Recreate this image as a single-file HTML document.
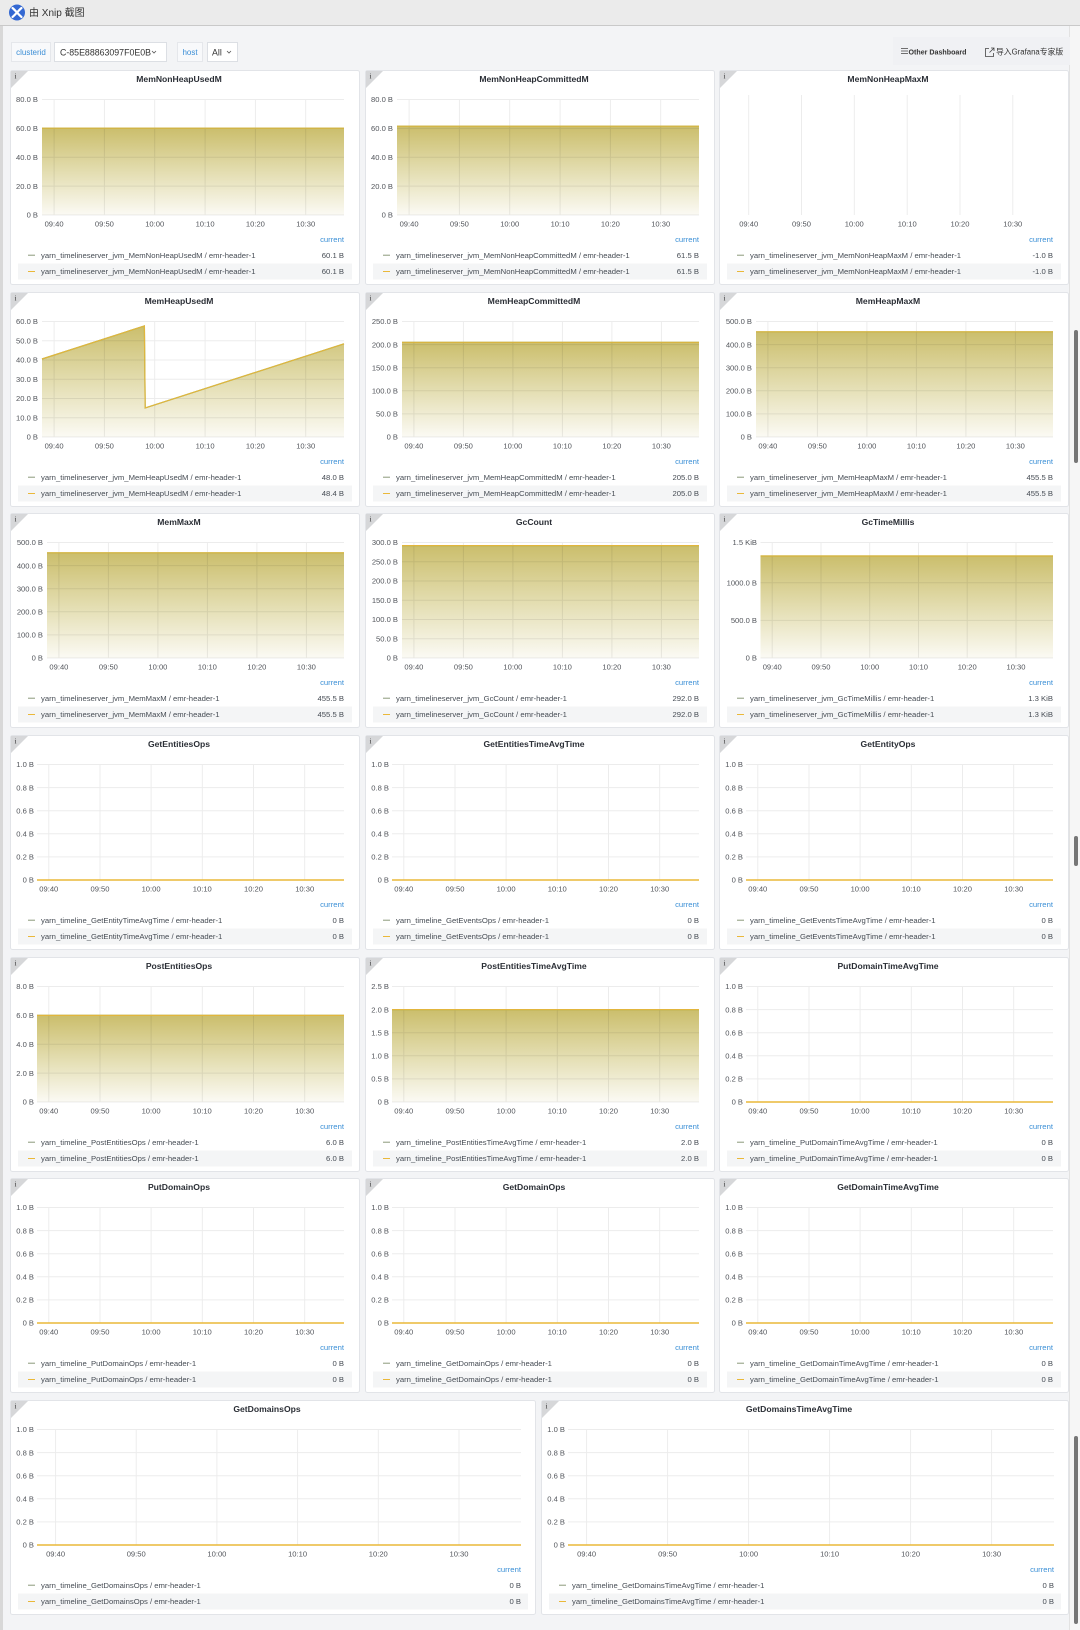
<!DOCTYPE html>
<html><head><meta charset="utf-8"><style>
html,body{margin:0;padding:0;width:1080px;height:1630px;overflow:hidden;background:#f3f4f6}
svg{display:block}
text{font-family:"Liberation Sans","Noto Sans CJK SC",sans-serif}
.pn{fill:#fff;stroke:#e2e4e8}
.ic{fill:#d6d7d9}
.ii{font-family:"Liberation Serif",serif;font-size:7.5px;fill:#333}
.t{font-weight:bold;font-size:8.6px;fill:#2b2f36;text-anchor:middle}
.yl text{font-size:7.6px;fill:#52555b;text-anchor:end}
.xl text{font-size:7.6px;fill:#52555b;text-anchor:middle}
.gr{stroke:rgba(0,0,0,.075);stroke-width:1;fill:none}
.fl{fill:url(#g)}
.l1{stroke:#7EB26D;stroke-width:1.2;fill:none}
.l2{stroke:#E2B53C;stroke-width:1.2;fill:none}
.z{stroke:#EAB839;stroke-width:1.6;fill:none}
.cur{font-size:7.7px;fill:#3a8fd6;text-anchor:end}
.lg{font-size:7.7px;fill:#464c54}
.lv{font-size:7.7px;fill:#464c54;text-anchor:end}
.hl{fill:#f4f5f6}
.d1{stroke:#8c9a7a;stroke-width:1}
.d2{stroke:#EAB839;stroke-width:1}
</style></head><body>
<svg width="1080" height="1630" viewBox="0 0 1080 1630" xmlns="http://www.w3.org/2000/svg">
<defs>
<linearGradient id="g" x1="0" y1="0" x2="0" y2="1">
<stop offset="0" stop-color="#cbbe6c"/>
<stop offset="0.5" stop-color="#e3ddb0"/>
<stop offset="1" stop-color="#fbfaf4"/>
</linearGradient>
</defs>
<!-- background -->
<rect x="0" y="0" width="1080" height="1630" fill="#f3f4f6"/>
<rect x="0" y="26" width="3" height="1604" fill="#d8d8d8"/>
<rect x="1070" y="26" width="10" height="1604" fill="#f6f6f6"/>
<path d="M1069.5 26V1630" stroke="#e2e2e2"/>
<rect x="1074" y="330" width="4" height="133" rx="2" fill="#767676"/>
<rect x="1074" y="836" width="4" height="30" rx="2" fill="#767676"/>
<rect x="1074" y="1436" width="4" height="188" rx="2" fill="#767676"/>
<!-- top bar -->
<rect x="0" y="0" width="1080" height="25" fill="#ebebeb"/>
<path d="M0 25.5H1080" stroke="#c9c9c9"/>
<circle cx="17" cy="12.5" r="8" fill="#3468d2"/>
<path d="M12.5 8C15 10 19 15 21.5 17M21.5 8C19 10 15 15 12.5 17" stroke="#fff" stroke-width="2.2" stroke-linecap="round" fill="none"/>
<text x="29" y="16" font-size="10" fill="#333">由 Xnip 截图</text>
<!-- variables -->
<rect x="11.5" y="42.5" width="39" height="19" fill="#f8f9fb" stroke="#e5e7eb"/>
<text x="31" y="55" font-size="8" fill="#3b8ed6" text-anchor="middle">clusterid</text>
<rect x="54.5" y="42.5" width="112" height="19" fill="#fff" stroke="#dcdfe4"/>
<text x="60" y="55.5" font-size="8.8" fill="#333">C-85E88863097F0E0B</text>
<path d="M152 51L154 53L156 51" stroke="#555" stroke-width="0.8" fill="none"/>
<rect x="177.5" y="42.5" width="25" height="19" fill="#f8f9fb" stroke="#e5e7eb"/>
<text x="190" y="55" font-size="8" fill="#3b8ed6" text-anchor="middle">host</text>
<rect x="207.5" y="42.5" width="30" height="19" fill="#fff" stroke="#dcdfe4"/>
<text x="212" y="55.5" font-size="8.8" fill="#333">All</text>
<path d="M227 51L229 53L231 51" stroke="#555" stroke-width="0.8" fill="none"/>
<rect x="893" y="37" width="177" height="28" fill="#f0f1f4"/>
<path d="M901 48.5H908M901 51H908M901 53.5H908" stroke="#444" stroke-width="0.8"/>
<text x="908.5" y="54.3" font-size="7.1" font-weight="bold" fill="#333">Other Dashboard</text>
<path d="M989 48.5H985.5V56.5H993.5V53M989.5 52.5L994 48M991 48H994V51" stroke="#444" stroke-width="0.8" fill="none"/>
<text x="996" y="54.5" font-size="7.8" fill="#333">导入Grafana专家版</text>

<!-- ROW 1 -->
<g transform="translate(10,70)">
<rect class="pn" x=".5" y=".5" width="349" height="214" rx="2"/>
<path class="ic" d="M1 1H18L1 18Z"/><text class="ii" x="4.5" y="8.5">i</text>
<text class="t" x="169" y="12">MemNonHeapUsedM</text>
<path class="fl" d="M32 58.2H334V145H32Z"/>
<path class="gr" d="M32 29.5H334M32 58.4H334M32 87.3H334M32 116.1H334M32 145H334M44.1 29.5V145M94.4 29.5V145M144.7 29.5V145M195.1 29.5V145M245.4 29.5V145M295.7 29.5V145"/>
<path class="l1" d="M32 58.2H334"/><path class="l2" d="M32 58.2H334"/>
<g class="yl"><text x="28" y="32.2">80.0 B</text><text x="28" y="61.1">60.0 B</text><text x="28" y="90">40.0 B</text><text x="28" y="118.8">20.0 B</text><text x="28" y="147.7">0 B</text></g>
<g class="xl"><text x="44.1" y="156.7">09:40</text><text x="94.4" y="156.7">09:50</text><text x="144.7" y="156.7">10:00</text><text x="195.1" y="156.7">10:10</text><text x="245.4" y="156.7">10:20</text><text x="295.7" y="156.7">10:30</text></g>
<text class="cur" x="334" y="172">current</text>
<rect class="hl" x="8" y="193.5" width="334" height="16"/>
<path class="d1" d="M18 185.2H25"/><path class="d2" d="M18 201.5H25"/>
<text class="lg" x="31" y="187.9">yarn_timelineserver_jvm_MemNonHeapUsedM / emr-header-1</text><text class="lv" x="334" y="187.9">60.1 B</text>
<text class="lg" x="31" y="204.2">yarn_timelineserver_jvm_MemNonHeapUsedM / emr-header-1</text><text class="lv" x="334" y="204.2">60.1 B</text>
</g>

<g transform="translate(365,70)">
<rect class="pn" x=".5" y=".5" width="349" height="214" rx="2"/>
<path class="ic" d="M1 1H18L1 18Z"/><text class="ii" x="4.5" y="8.5">i</text>
<text class="t" x="169" y="12">MemNonHeapCommittedM</text>
<path class="fl" d="M32 56.2H334V145H32Z"/>
<path class="gr" d="M32 29.5H334M32 58.4H334M32 87.3H334M32 116.1H334M32 145H334M44.1 29.5V145M94.4 29.5V145M144.7 29.5V145M195.1 29.5V145M245.4 29.5V145M295.7 29.5V145"/>
<path class="l1" d="M32 56.2H334"/><path class="l2" d="M32 56.2H334"/>
<g class="yl"><text x="28" y="32.2">80.0 B</text><text x="28" y="61.1">60.0 B</text><text x="28" y="90">40.0 B</text><text x="28" y="118.8">20.0 B</text><text x="28" y="147.7">0 B</text></g>
<g class="xl"><text x="44.1" y="156.7">09:40</text><text x="94.4" y="156.7">09:50</text><text x="144.7" y="156.7">10:00</text><text x="195.1" y="156.7">10:10</text><text x="245.4" y="156.7">10:20</text><text x="295.7" y="156.7">10:30</text></g>
<text class="cur" x="334" y="172">current</text>
<rect class="hl" x="8" y="193.5" width="334" height="16"/>
<path class="d1" d="M18 185.2H25"/><path class="d2" d="M18 201.5H25"/>
<text class="lg" x="31" y="187.9">yarn_timelineserver_jvm_MemNonHeapCommittedM / emr-header-1</text><text class="lv" x="334" y="187.9">61.5 B</text>
<text class="lg" x="31" y="204.2">yarn_timelineserver_jvm_MemNonHeapCommittedM / emr-header-1</text><text class="lv" x="334" y="204.2">61.5 B</text>
</g>

<g transform="translate(719,70)">
<rect class="pn" x=".5" y=".5" width="349" height="214" rx="2"/>
<path class="ic" d="M1 1H18L1 18Z"/><text class="ii" x="4.5" y="8.5">i</text>
<text class="t" x="169" y="12">MemNonHeapMaxM</text>
<path class="gr" d="M29.7 25V145M82.5 25V145M135.3 25V145M188.2 25V145M241 25V145M293.8 25V145"/>
<g class="xl"><text x="29.7" y="156.7">09:40</text><text x="82.5" y="156.7">09:50</text><text x="135.3" y="156.7">10:00</text><text x="188.2" y="156.7">10:10</text><text x="241" y="156.7">10:20</text><text x="293.8" y="156.7">10:30</text></g>
<text class="cur" x="334" y="172">current</text>
<rect class="hl" x="8" y="193.5" width="334" height="16"/>
<path class="d1" d="M18 185.2H25"/><path class="d2" d="M18 201.5H25"/>
<text class="lg" x="31" y="187.9">yarn_timelineserver_jvm_MemNonHeapMaxM / emr-header-1</text><text class="lv" x="334" y="187.9">-1.0 B</text>
<text class="lg" x="31" y="204.2">yarn_timelineserver_jvm_MemNonHeapMaxM / emr-header-1</text><text class="lv" x="334" y="204.2">-1.0 B</text>
</g>

<!-- ROW 2 -->
<g transform="translate(10,292)">
<rect class="pn" x=".5" y=".5" width="349" height="214" rx="2"/>
<path class="ic" d="M1 1H18L1 18Z"/><text class="ii" x="4.5" y="8.5">i</text>
<text class="t" x="169" y="12">MemHeapUsedM</text>
<path class="fl" d="M32 67L134.4 33.9L135.2 115.9L334 51.8V145H32Z"/>
<path class="gr" d="M32 29.5H334M32 48.75H334M32 68H334M32 87.25H334M32 106.5H334M32 125.75H334M32 145H334M44.1 29.5V145M94.4 29.5V145M144.7 29.5V145M195.1 29.5V145M245.4 29.5V145M295.7 29.5V145"/>
<path class="l1" d="M32 67L134.4 33.9L135.2 115.9L334 51.8"/><path class="l2" d="M32 67L134.4 33.9L135.2 115.9L334 51.8"/>
<g class="yl"><text x="28" y="32.2">60.0 B</text><text x="28" y="51.45">50.0 B</text><text x="28" y="70.7">40.0 B</text><text x="28" y="89.95">30.0 B</text><text x="28" y="109.2">20.0 B</text><text x="28" y="128.45">10.0 B</text><text x="28" y="147.7">0 B</text></g>
<g class="xl"><text x="44.1" y="156.7">09:40</text><text x="94.4" y="156.7">09:50</text><text x="144.7" y="156.7">10:00</text><text x="195.1" y="156.7">10:10</text><text x="245.4" y="156.7">10:20</text><text x="295.7" y="156.7">10:30</text></g>
<text class="cur" x="334" y="172">current</text>
<rect class="hl" x="8" y="193.5" width="334" height="16"/>
<path class="d1" d="M18 185.2H25"/><path class="d2" d="M18 201.5H25"/>
<text class="lg" x="31" y="187.9">yarn_timelineserver_jvm_MemHeapUsedM / emr-header-1</text><text class="lv" x="334" y="187.9">48.0 B</text>
<text class="lg" x="31" y="204.2">yarn_timelineserver_jvm_MemHeapUsedM / emr-header-1</text><text class="lv" x="334" y="204.2">48.4 B</text>
</g>

<g transform="translate(365,292)">
<rect class="pn" x=".5" y=".5" width="349" height="214" rx="2"/>
<path class="ic" d="M1 1H18L1 18Z"/><text class="ii" x="4.5" y="8.5">i</text>
<text class="t" x="169" y="12">MemHeapCommittedM</text>
<path class="fl" d="M37 50.3H334V145H37Z"/>
<path class="gr" d="M37 29.5H334M37 52.6H334M37 75.7H334M37 98.8H334M37 121.9H334M37 145H334M48.9 29.5V145M98.4 29.5V145M147.9 29.5V145M197.4 29.5V145M246.9 29.5V145M296.4 29.5V145"/>
<path class="l1" d="M37 50.3H334"/><path class="l2" d="M37 50.3H334"/>
<g class="yl"><text x="33" y="32.2">250.0 B</text><text x="33" y="55.3">200.0 B</text><text x="33" y="78.4">150.0 B</text><text x="33" y="101.5">100.0 B</text><text x="33" y="124.6">50.0 B</text><text x="33" y="147.7">0 B</text></g>
<g class="xl"><text x="48.9" y="156.7">09:40</text><text x="98.4" y="156.7">09:50</text><text x="147.9" y="156.7">10:00</text><text x="197.4" y="156.7">10:10</text><text x="246.9" y="156.7">10:20</text><text x="296.4" y="156.7">10:30</text></g>
<text class="cur" x="334" y="172">current</text>
<rect class="hl" x="8" y="193.5" width="334" height="16"/>
<path class="d1" d="M18 185.2H25"/><path class="d2" d="M18 201.5H25"/>
<text class="lg" x="31" y="187.9">yarn_timelineserver_jvm_MemHeapCommittedM / emr-header-1</text><text class="lv" x="334" y="187.9">205.0 B</text>
<text class="lg" x="31" y="204.2">yarn_timelineserver_jvm_MemHeapCommittedM / emr-header-1</text><text class="lv" x="334" y="204.2">205.0 B</text>
</g>

<g transform="translate(719,292)">
<rect class="pn" x=".5" y=".5" width="349" height="214" rx="2"/>
<path class="ic" d="M1 1H18L1 18Z"/><text class="ii" x="4.5" y="8.5">i</text>
<text class="t" x="169" y="12">MemHeapMaxM</text>
<path class="fl" d="M37 39.8H334V145H37Z"/>
<path class="gr" d="M37 29.5H334M37 52.6H334M37 75.7H334M37 98.8H334M37 121.9H334M37 145H334M48.9 29.5V145M98.4 29.5V145M147.9 29.5V145M197.4 29.5V145M246.9 29.5V145M296.4 29.5V145"/>
<path class="l1" d="M37 39.8H334"/><path class="l2" d="M37 39.8H334"/>
<g class="yl"><text x="33" y="32.2">500.0 B</text><text x="33" y="55.3">400.0 B</text><text x="33" y="78.4">300.0 B</text><text x="33" y="101.5">200.0 B</text><text x="33" y="124.6">100.0 B</text><text x="33" y="147.7">0 B</text></g>
<g class="xl"><text x="48.9" y="156.7">09:40</text><text x="98.4" y="156.7">09:50</text><text x="147.9" y="156.7">10:00</text><text x="197.4" y="156.7">10:10</text><text x="246.9" y="156.7">10:20</text><text x="296.4" y="156.7">10:30</text></g>
<text class="cur" x="334" y="172">current</text>
<rect class="hl" x="8" y="193.5" width="334" height="16"/>
<path class="d1" d="M18 185.2H25"/><path class="d2" d="M18 201.5H25"/>
<text class="lg" x="31" y="187.9">yarn_timelineserver_jvm_MemHeapMaxM / emr-header-1</text><text class="lv" x="334" y="187.9">455.5 B</text>
<text class="lg" x="31" y="204.2">yarn_timelineserver_jvm_MemHeapMaxM / emr-header-1</text><text class="lv" x="334" y="204.2">455.5 B</text>
</g>

<!-- ROW 3 -->
<g transform="translate(10,513)">
<rect class="pn" x=".5" y=".5" width="349" height="214" rx="2"/>
<path class="ic" d="M1 1H18L1 18Z"/><text class="ii" x="4.5" y="8.5">i</text>
<text class="t" x="169" y="12">MemMaxM</text>
<path class="fl" d="M37 39.8H334V145H37Z"/>
<path class="gr" d="M37 29.5H334M37 52.6H334M37 75.7H334M37 98.8H334M37 121.9H334M37 145H334M48.9 29.5V145M98.4 29.5V145M147.9 29.5V145M197.4 29.5V145M246.9 29.5V145M296.4 29.5V145"/>
<path class="l1" d="M37 39.8H334"/><path class="l2" d="M37 39.8H334"/>
<g class="yl"><text x="33" y="32.2">500.0 B</text><text x="33" y="55.3">400.0 B</text><text x="33" y="78.4">300.0 B</text><text x="33" y="101.5">200.0 B</text><text x="33" y="124.6">100.0 B</text><text x="33" y="147.7">0 B</text></g>
<g class="xl"><text x="48.9" y="156.7">09:40</text><text x="98.4" y="156.7">09:50</text><text x="147.9" y="156.7">10:00</text><text x="197.4" y="156.7">10:10</text><text x="246.9" y="156.7">10:20</text><text x="296.4" y="156.7">10:30</text></g>
<text class="cur" x="334" y="172">current</text>
<rect class="hl" x="8" y="193.5" width="334" height="16"/>
<path class="d1" d="M18 185.2H25"/><path class="d2" d="M18 201.5H25"/>
<text class="lg" x="31" y="187.9">yarn_timelineserver_jvm_MemMaxM / emr-header-1</text><text class="lv" x="334" y="187.9">455.5 B</text>
<text class="lg" x="31" y="204.2">yarn_timelineserver_jvm_MemMaxM / emr-header-1</text><text class="lv" x="334" y="204.2">455.5 B</text>
</g>

<g transform="translate(365,513)">
<rect class="pn" x=".5" y=".5" width="349" height="214" rx="2"/>
<path class="ic" d="M1 1H18L1 18Z"/><text class="ii" x="4.5" y="8.5">i</text>
<text class="t" x="169" y="12">GcCount</text>
<path class="fl" d="M37 32.6H334V145H37Z"/>
<path class="gr" d="M37 29.5H334M37 48.75H334M37 68H334M37 87.25H334M37 106.5H334M37 125.75H334M37 145H334M48.9 29.5V145M98.4 29.5V145M147.9 29.5V145M197.4 29.5V145M246.9 29.5V145M296.4 29.5V145"/>
<path class="l1" d="M37 32.6H334"/><path class="l2" d="M37 32.6H334"/>
<g class="yl"><text x="33" y="32.2">300.0 B</text><text x="33" y="51.45">250.0 B</text><text x="33" y="70.7">200.0 B</text><text x="33" y="89.95">150.0 B</text><text x="33" y="109.2">100.0 B</text><text x="33" y="128.45">50.0 B</text><text x="33" y="147.7">0 B</text></g>
<g class="xl"><text x="48.9" y="156.7">09:40</text><text x="98.4" y="156.7">09:50</text><text x="147.9" y="156.7">10:00</text><text x="197.4" y="156.7">10:10</text><text x="246.9" y="156.7">10:20</text><text x="296.4" y="156.7">10:30</text></g>
<text class="cur" x="334" y="172">current</text>
<rect class="hl" x="8" y="193.5" width="334" height="16"/>
<path class="d1" d="M18 185.2H25"/><path class="d2" d="M18 201.5H25"/>
<text class="lg" x="31" y="187.9">yarn_timelineserver_jvm_GcCount / emr-header-1</text><text class="lv" x="334" y="187.9">292.0 B</text>
<text class="lg" x="31" y="204.2">yarn_timelineserver_jvm_GcCount / emr-header-1</text><text class="lv" x="334" y="204.2">292.0 B</text>
</g>

<g transform="translate(719,513)">
<rect class="pn" x=".5" y=".5" width="349" height="214" rx="2"/>
<path class="ic" d="M1 1H18L1 18Z"/><text class="ii" x="4.5" y="8.5">i</text>
<text class="t" x="169" y="12">GcTimeMillis</text>
<path class="fl" d="M41.5 43H334V145H41.5Z"/>
<path class="gr" d="M41.5 29.5H334M41.5 69.8H334M41.5 107.4H334M41.5 145H334M53.2 29.5V145M102 29.5V145M150.7 29.5V145M199.5 29.5V145M248.2 29.5V145M297 29.5V145"/>
<path class="l1" d="M41.5 43H334"/><path class="l2" d="M41.5 43H334"/>
<g class="yl"><text x="38" y="32.2">1.5 KiB</text><text x="38" y="72.5">1000.0 B</text><text x="38" y="110.1">500.0 B</text><text x="38" y="147.7">0 B</text></g>
<g class="xl"><text x="53.2" y="156.7">09:40</text><text x="102" y="156.7">09:50</text><text x="150.7" y="156.7">10:00</text><text x="199.5" y="156.7">10:10</text><text x="248.2" y="156.7">10:20</text><text x="297" y="156.7">10:30</text></g>
<text class="cur" x="334" y="172">current</text>
<rect class="hl" x="8" y="193.5" width="334" height="16"/>
<path class="d1" d="M18 185.2H25"/><path class="d2" d="M18 201.5H25"/>
<text class="lg" x="31" y="187.9">yarn_timelineserver_jvm_GcTimeMillis / emr-header-1</text><text class="lv" x="334" y="187.9">1.3 KiB</text>
<text class="lg" x="31" y="204.2">yarn_timelineserver_jvm_GcTimeMillis / emr-header-1</text><text class="lv" x="334" y="204.2">1.3 KiB</text>
</g>

<!-- ROW 4 -->
<g transform="translate(10,735)">
<rect class="pn" x=".5" y=".5" width="349" height="214" rx="2"/>
<path class="ic" d="M1 1H18L1 18Z"/><text class="ii" x="4.5" y="8.5">i</text>
<text class="t" x="169" y="12">GetEntitiesOps</text>
<path class="gr" d="M27 29.5H334M27 52.6H334M27 75.7H334M27 98.8H334M27 121.9H334M27 145H334M38.8 29.5V145M90 29.5V145M141.1 29.5V145M192.3 29.5V145M243.5 29.5V145M294.7 29.5V145"/>
<path class="z" d="M27 145H334"/>
<g class="yl"><text x="24" y="32.2">1.0 B</text><text x="24" y="55.3">0.8 B</text><text x="24" y="78.4">0.6 B</text><text x="24" y="101.5">0.4 B</text><text x="24" y="124.6">0.2 B</text><text x="24" y="147.7">0 B</text></g>
<g class="xl"><text x="38.8" y="156.7">09:40</text><text x="90" y="156.7">09:50</text><text x="141.1" y="156.7">10:00</text><text x="192.3" y="156.7">10:10</text><text x="243.5" y="156.7">10:20</text><text x="294.7" y="156.7">10:30</text></g>
<text class="cur" x="334" y="172">current</text>
<rect class="hl" x="8" y="193.5" width="334" height="16"/>
<path class="d1" d="M18 185.2H25"/><path class="d2" d="M18 201.5H25"/>
<text class="lg" x="31" y="187.9">yarn_timeline_GetEntityTimeAvgTime / emr-header-1</text><text class="lv" x="334" y="187.9">0 B</text>
<text class="lg" x="31" y="204.2">yarn_timeline_GetEntityTimeAvgTime / emr-header-1</text><text class="lv" x="334" y="204.2">0 B</text>
</g>

<g transform="translate(365,735)">
<rect class="pn" x=".5" y=".5" width="349" height="214" rx="2"/>
<path class="ic" d="M1 1H18L1 18Z"/><text class="ii" x="4.5" y="8.5">i</text>
<text class="t" x="169" y="12">GetEntitiesTimeAvgTime</text>
<path class="gr" d="M27 29.5H334M27 52.6H334M27 75.7H334M27 98.8H334M27 121.9H334M27 145H334M38.8 29.5V145M90 29.5V145M141.1 29.5V145M192.3 29.5V145M243.5 29.5V145M294.7 29.5V145"/>
<path class="z" d="M27 145H334"/>
<g class="yl"><text x="24" y="32.2">1.0 B</text><text x="24" y="55.3">0.8 B</text><text x="24" y="78.4">0.6 B</text><text x="24" y="101.5">0.4 B</text><text x="24" y="124.6">0.2 B</text><text x="24" y="147.7">0 B</text></g>
<g class="xl"><text x="38.8" y="156.7">09:40</text><text x="90" y="156.7">09:50</text><text x="141.1" y="156.7">10:00</text><text x="192.3" y="156.7">10:10</text><text x="243.5" y="156.7">10:20</text><text x="294.7" y="156.7">10:30</text></g>
<text class="cur" x="334" y="172">current</text>
<rect class="hl" x="8" y="193.5" width="334" height="16"/>
<path class="d1" d="M18 185.2H25"/><path class="d2" d="M18 201.5H25"/>
<text class="lg" x="31" y="187.9">yarn_timeline_GetEventsOps / emr-header-1</text><text class="lv" x="334" y="187.9">0 B</text>
<text class="lg" x="31" y="204.2">yarn_timeline_GetEventsOps / emr-header-1</text><text class="lv" x="334" y="204.2">0 B</text>
</g>

<g transform="translate(719,735)">
<rect class="pn" x=".5" y=".5" width="349" height="214" rx="2"/>
<path class="ic" d="M1 1H18L1 18Z"/><text class="ii" x="4.5" y="8.5">i</text>
<text class="t" x="169" y="12">GetEntityOps</text>
<path class="gr" d="M27 29.5H334M27 52.6H334M27 75.7H334M27 98.8H334M27 121.9H334M27 145H334M38.8 29.5V145M90 29.5V145M141.1 29.5V145M192.3 29.5V145M243.5 29.5V145M294.7 29.5V145"/>
<path class="z" d="M27 145H334"/>
<g class="yl"><text x="24" y="32.2">1.0 B</text><text x="24" y="55.3">0.8 B</text><text x="24" y="78.4">0.6 B</text><text x="24" y="101.5">0.4 B</text><text x="24" y="124.6">0.2 B</text><text x="24" y="147.7">0 B</text></g>
<g class="xl"><text x="38.8" y="156.7">09:40</text><text x="90" y="156.7">09:50</text><text x="141.1" y="156.7">10:00</text><text x="192.3" y="156.7">10:10</text><text x="243.5" y="156.7">10:20</text><text x="294.7" y="156.7">10:30</text></g>
<text class="cur" x="334" y="172">current</text>
<rect class="hl" x="8" y="193.5" width="334" height="16"/>
<path class="d1" d="M18 185.2H25"/><path class="d2" d="M18 201.5H25"/>
<text class="lg" x="31" y="187.9">yarn_timeline_GetEventsTimeAvgTime / emr-header-1</text><text class="lv" x="334" y="187.9">0 B</text>
<text class="lg" x="31" y="204.2">yarn_timeline_GetEventsTimeAvgTime / emr-header-1</text><text class="lv" x="334" y="204.2">0 B</text>
</g>

<!-- ROW 5 -->
<g transform="translate(10,957)">
<rect class="pn" x=".5" y=".5" width="349" height="214" rx="2"/>
<path class="ic" d="M1 1H18L1 18Z"/><text class="ii" x="4.5" y="8.5">i</text>
<text class="t" x="169" y="12">PostEntitiesOps</text>
<path class="fl" d="M27 58.4H334V145H27Z"/>
<path class="gr" d="M27 29.5H334M27 58.4H334M27 87.3H334M27 116.1H334M27 145H334M38.8 29.5V145M90 29.5V145M141.1 29.5V145M192.3 29.5V145M243.5 29.5V145M294.7 29.5V145"/>
<path class="l1" d="M27 58.4H334"/><path class="l2" d="M27 58.4H334"/>
<g class="yl"><text x="24" y="32.2">8.0 B</text><text x="24" y="61.1">6.0 B</text><text x="24" y="90">4.0 B</text><text x="24" y="118.8">2.0 B</text><text x="24" y="147.7">0 B</text></g>
<g class="xl"><text x="38.8" y="156.7">09:40</text><text x="90" y="156.7">09:50</text><text x="141.1" y="156.7">10:00</text><text x="192.3" y="156.7">10:10</text><text x="243.5" y="156.7">10:20</text><text x="294.7" y="156.7">10:30</text></g>
<text class="cur" x="334" y="172">current</text>
<rect class="hl" x="8" y="193.5" width="334" height="16"/>
<path class="d1" d="M18 185.2H25"/><path class="d2" d="M18 201.5H25"/>
<text class="lg" x="31" y="187.9">yarn_timeline_PostEntitiesOps / emr-header-1</text><text class="lv" x="334" y="187.9">6.0 B</text>
<text class="lg" x="31" y="204.2">yarn_timeline_PostEntitiesOps / emr-header-1</text><text class="lv" x="334" y="204.2">6.0 B</text>
</g>

<g transform="translate(365,957)">
<rect class="pn" x=".5" y=".5" width="349" height="214" rx="2"/>
<path class="ic" d="M1 1H18L1 18Z"/><text class="ii" x="4.5" y="8.5">i</text>
<text class="t" x="169" y="12">PostEntitiesTimeAvgTime</text>
<path class="fl" d="M27 52.6H334V145H27Z"/>
<path class="gr" d="M27 29.5H334M27 52.6H334M27 75.7H334M27 98.8H334M27 121.9H334M27 145H334M38.8 29.5V145M90 29.5V145M141.1 29.5V145M192.3 29.5V145M243.5 29.5V145M294.7 29.5V145"/>
<path class="l1" d="M27 52.6H334"/><path class="l2" d="M27 52.6H334"/>
<g class="yl"><text x="24" y="32.2">2.5 B</text><text x="24" y="55.3">2.0 B</text><text x="24" y="78.4">1.5 B</text><text x="24" y="101.5">1.0 B</text><text x="24" y="124.6">0.5 B</text><text x="24" y="147.7">0 B</text></g>
<g class="xl"><text x="38.8" y="156.7">09:40</text><text x="90" y="156.7">09:50</text><text x="141.1" y="156.7">10:00</text><text x="192.3" y="156.7">10:10</text><text x="243.5" y="156.7">10:20</text><text x="294.7" y="156.7">10:30</text></g>
<text class="cur" x="334" y="172">current</text>
<rect class="hl" x="8" y="193.5" width="334" height="16"/>
<path class="d1" d="M18 185.2H25"/><path class="d2" d="M18 201.5H25"/>
<text class="lg" x="31" y="187.9">yarn_timeline_PostEntitiesTimeAvgTime / emr-header-1</text><text class="lv" x="334" y="187.9">2.0 B</text>
<text class="lg" x="31" y="204.2">yarn_timeline_PostEntitiesTimeAvgTime / emr-header-1</text><text class="lv" x="334" y="204.2">2.0 B</text>
</g>

<g transform="translate(719,957)">
<rect class="pn" x=".5" y=".5" width="349" height="214" rx="2"/>
<path class="ic" d="M1 1H18L1 18Z"/><text class="ii" x="4.5" y="8.5">i</text>
<text class="t" x="169" y="12">PutDomainTimeAvgTime</text>
<path class="gr" d="M27 29.5H334M27 52.6H334M27 75.7H334M27 98.8H334M27 121.9H334M27 145H334M38.8 29.5V145M90 29.5V145M141.1 29.5V145M192.3 29.5V145M243.5 29.5V145M294.7 29.5V145"/>
<path class="z" d="M27 145H334"/>
<g class="yl"><text x="24" y="32.2">1.0 B</text><text x="24" y="55.3">0.8 B</text><text x="24" y="78.4">0.6 B</text><text x="24" y="101.5">0.4 B</text><text x="24" y="124.6">0.2 B</text><text x="24" y="147.7">0 B</text></g>
<g class="xl"><text x="38.8" y="156.7">09:40</text><text x="90" y="156.7">09:50</text><text x="141.1" y="156.7">10:00</text><text x="192.3" y="156.7">10:10</text><text x="243.5" y="156.7">10:20</text><text x="294.7" y="156.7">10:30</text></g>
<text class="cur" x="334" y="172">current</text>
<rect class="hl" x="8" y="193.5" width="334" height="16"/>
<path class="d1" d="M18 185.2H25"/><path class="d2" d="M18 201.5H25"/>
<text class="lg" x="31" y="187.9">yarn_timeline_PutDomainTimeAvgTime / emr-header-1</text><text class="lv" x="334" y="187.9">0 B</text>
<text class="lg" x="31" y="204.2">yarn_timeline_PutDomainTimeAvgTime / emr-header-1</text><text class="lv" x="334" y="204.2">0 B</text>
</g>

<!-- ROW 6 -->
<g transform="translate(10,1178)">
<rect class="pn" x=".5" y=".5" width="349" height="214" rx="2"/>
<path class="ic" d="M1 1H18L1 18Z"/><text class="ii" x="4.5" y="8.5">i</text>
<text class="t" x="169" y="12">PutDomainOps</text>
<path class="gr" d="M27 29.5H334M27 52.6H334M27 75.7H334M27 98.8H334M27 121.9H334M27 145H334M38.8 29.5V145M90 29.5V145M141.1 29.5V145M192.3 29.5V145M243.5 29.5V145M294.7 29.5V145"/>
<path class="z" d="M27 145H334"/>
<g class="yl"><text x="24" y="32.2">1.0 B</text><text x="24" y="55.3">0.8 B</text><text x="24" y="78.4">0.6 B</text><text x="24" y="101.5">0.4 B</text><text x="24" y="124.6">0.2 B</text><text x="24" y="147.7">0 B</text></g>
<g class="xl"><text x="38.8" y="156.7">09:40</text><text x="90" y="156.7">09:50</text><text x="141.1" y="156.7">10:00</text><text x="192.3" y="156.7">10:10</text><text x="243.5" y="156.7">10:20</text><text x="294.7" y="156.7">10:30</text></g>
<text class="cur" x="334" y="172">current</text>
<rect class="hl" x="8" y="193.5" width="334" height="16"/>
<path class="d1" d="M18 185.2H25"/><path class="d2" d="M18 201.5H25"/>
<text class="lg" x="31" y="187.9">yarn_timeline_PutDomainOps / emr-header-1</text><text class="lv" x="334" y="187.9">0 B</text>
<text class="lg" x="31" y="204.2">yarn_timeline_PutDomainOps / emr-header-1</text><text class="lv" x="334" y="204.2">0 B</text>
</g>

<g transform="translate(365,1178)">
<rect class="pn" x=".5" y=".5" width="349" height="214" rx="2"/>
<path class="ic" d="M1 1H18L1 18Z"/><text class="ii" x="4.5" y="8.5">i</text>
<text class="t" x="169" y="12">GetDomainOps</text>
<path class="gr" d="M27 29.5H334M27 52.6H334M27 75.7H334M27 98.8H334M27 121.9H334M27 145H334M38.8 29.5V145M90 29.5V145M141.1 29.5V145M192.3 29.5V145M243.5 29.5V145M294.7 29.5V145"/>
<path class="z" d="M27 145H334"/>
<g class="yl"><text x="24" y="32.2">1.0 B</text><text x="24" y="55.3">0.8 B</text><text x="24" y="78.4">0.6 B</text><text x="24" y="101.5">0.4 B</text><text x="24" y="124.6">0.2 B</text><text x="24" y="147.7">0 B</text></g>
<g class="xl"><text x="38.8" y="156.7">09:40</text><text x="90" y="156.7">09:50</text><text x="141.1" y="156.7">10:00</text><text x="192.3" y="156.7">10:10</text><text x="243.5" y="156.7">10:20</text><text x="294.7" y="156.7">10:30</text></g>
<text class="cur" x="334" y="172">current</text>
<rect class="hl" x="8" y="193.5" width="334" height="16"/>
<path class="d1" d="M18 185.2H25"/><path class="d2" d="M18 201.5H25"/>
<text class="lg" x="31" y="187.9">yarn_timeline_GetDomainOps / emr-header-1</text><text class="lv" x="334" y="187.9">0 B</text>
<text class="lg" x="31" y="204.2">yarn_timeline_GetDomainOps / emr-header-1</text><text class="lv" x="334" y="204.2">0 B</text>
</g>

<g transform="translate(719,1178)">
<rect class="pn" x=".5" y=".5" width="349" height="214" rx="2"/>
<path class="ic" d="M1 1H18L1 18Z"/><text class="ii" x="4.5" y="8.5">i</text>
<text class="t" x="169" y="12">GetDomainTimeAvgTime</text>
<path class="gr" d="M27 29.5H334M27 52.6H334M27 75.7H334M27 98.8H334M27 121.9H334M27 145H334M38.8 29.5V145M90 29.5V145M141.1 29.5V145M192.3 29.5V145M243.5 29.5V145M294.7 29.5V145"/>
<path class="z" d="M27 145H334"/>
<g class="yl"><text x="24" y="32.2">1.0 B</text><text x="24" y="55.3">0.8 B</text><text x="24" y="78.4">0.6 B</text><text x="24" y="101.5">0.4 B</text><text x="24" y="124.6">0.2 B</text><text x="24" y="147.7">0 B</text></g>
<g class="xl"><text x="38.8" y="156.7">09:40</text><text x="90" y="156.7">09:50</text><text x="141.1" y="156.7">10:00</text><text x="192.3" y="156.7">10:10</text><text x="243.5" y="156.7">10:20</text><text x="294.7" y="156.7">10:30</text></g>
<text class="cur" x="334" y="172">current</text>
<rect class="hl" x="8" y="193.5" width="334" height="16"/>
<path class="d1" d="M18 185.2H25"/><path class="d2" d="M18 201.5H25"/>
<text class="lg" x="31" y="187.9">yarn_timeline_GetDomainTimeAvgTime / emr-header-1</text><text class="lv" x="334" y="187.9">0 B</text>
<text class="lg" x="31" y="204.2">yarn_timeline_GetDomainTimeAvgTime / emr-header-1</text><text class="lv" x="334" y="204.2">0 B</text>
</g>

<!-- ROW 7 -->
<g transform="translate(10,1400)">
<rect class="pn" x=".5" y=".5" width="525" height="214" rx="2"/>
<path class="ic" d="M1 1H18L1 18Z"/><text class="ii" x="4.5" y="8.5">i</text>
<text class="t" x="257" y="12">GetDomainsOps</text>
<path class="gr" d="M27 29.5H511M27 52.6H511M27 75.7H511M27 98.8H511M27 121.9H511M27 145H511M45.6 29.5V145M126.2 29.5V145M206.9 29.5V145M287.6 29.5V145M368.3 29.5V145M449 29.5V145"/>
<path class="z" d="M27 145H511"/>
<g class="yl"><text x="24" y="32.2">1.0 B</text><text x="24" y="55.3">0.8 B</text><text x="24" y="78.4">0.6 B</text><text x="24" y="101.5">0.4 B</text><text x="24" y="124.6">0.2 B</text><text x="24" y="147.7">0 B</text></g>
<g class="xl"><text x="45.6" y="156.7">09:40</text><text x="126.2" y="156.7">09:50</text><text x="206.9" y="156.7">10:00</text><text x="287.6" y="156.7">10:10</text><text x="368.3" y="156.7">10:20</text><text x="449" y="156.7">10:30</text></g>
<text class="cur" x="511" y="172">current</text>
<rect class="hl" x="8" y="193.5" width="510" height="16"/>
<path class="d1" d="M18 185.2H25"/><path class="d2" d="M18 201.5H25"/>
<text class="lg" x="31" y="187.9">yarn_timeline_GetDomainsOps / emr-header-1</text><text class="lv" x="511" y="187.9">0 B</text>
<text class="lg" x="31" y="204.2">yarn_timeline_GetDomainsOps / emr-header-1</text><text class="lv" x="511" y="204.2">0 B</text>
</g>

<g transform="translate(541,1400)">
<rect class="pn" x=".5" y=".5" width="527" height="214" rx="2"/>
<path class="ic" d="M1 1H18L1 18Z"/><text class="ii" x="4.5" y="8.5">i</text>
<text class="t" x="258" y="12">GetDomainsTimeAvgTime</text>
<path class="gr" d="M27 29.5H513M27 52.6H513M27 75.7H513M27 98.8H513M27 121.9H513M27 145H513M45.6 29.5V145M126.6 29.5V145M207.6 29.5V145M288.6 29.5V145M369.6 29.5V145M450.6 29.5V145"/>
<path class="z" d="M27 145H513"/>
<g class="yl"><text x="24" y="32.2">1.0 B</text><text x="24" y="55.3">0.8 B</text><text x="24" y="78.4">0.6 B</text><text x="24" y="101.5">0.4 B</text><text x="24" y="124.6">0.2 B</text><text x="24" y="147.7">0 B</text></g>
<g class="xl"><text x="45.6" y="156.7">09:40</text><text x="126.6" y="156.7">09:50</text><text x="207.6" y="156.7">10:00</text><text x="288.6" y="156.7">10:10</text><text x="369.6" y="156.7">10:20</text><text x="450.6" y="156.7">10:30</text></g>
<text class="cur" x="513" y="172">current</text>
<rect class="hl" x="8" y="193.5" width="512" height="16"/>
<path class="d1" d="M18 185.2H25"/><path class="d2" d="M18 201.5H25"/>
<text class="lg" x="31" y="187.9">yarn_timeline_GetDomainsTimeAvgTime / emr-header-1</text><text class="lv" x="513" y="187.9">0 B</text>
<text class="lg" x="31" y="204.2">yarn_timeline_GetDomainsTimeAvgTime / emr-header-1</text><text class="lv" x="513" y="204.2">0 B</text>
</g>
</svg>
</body></html>
